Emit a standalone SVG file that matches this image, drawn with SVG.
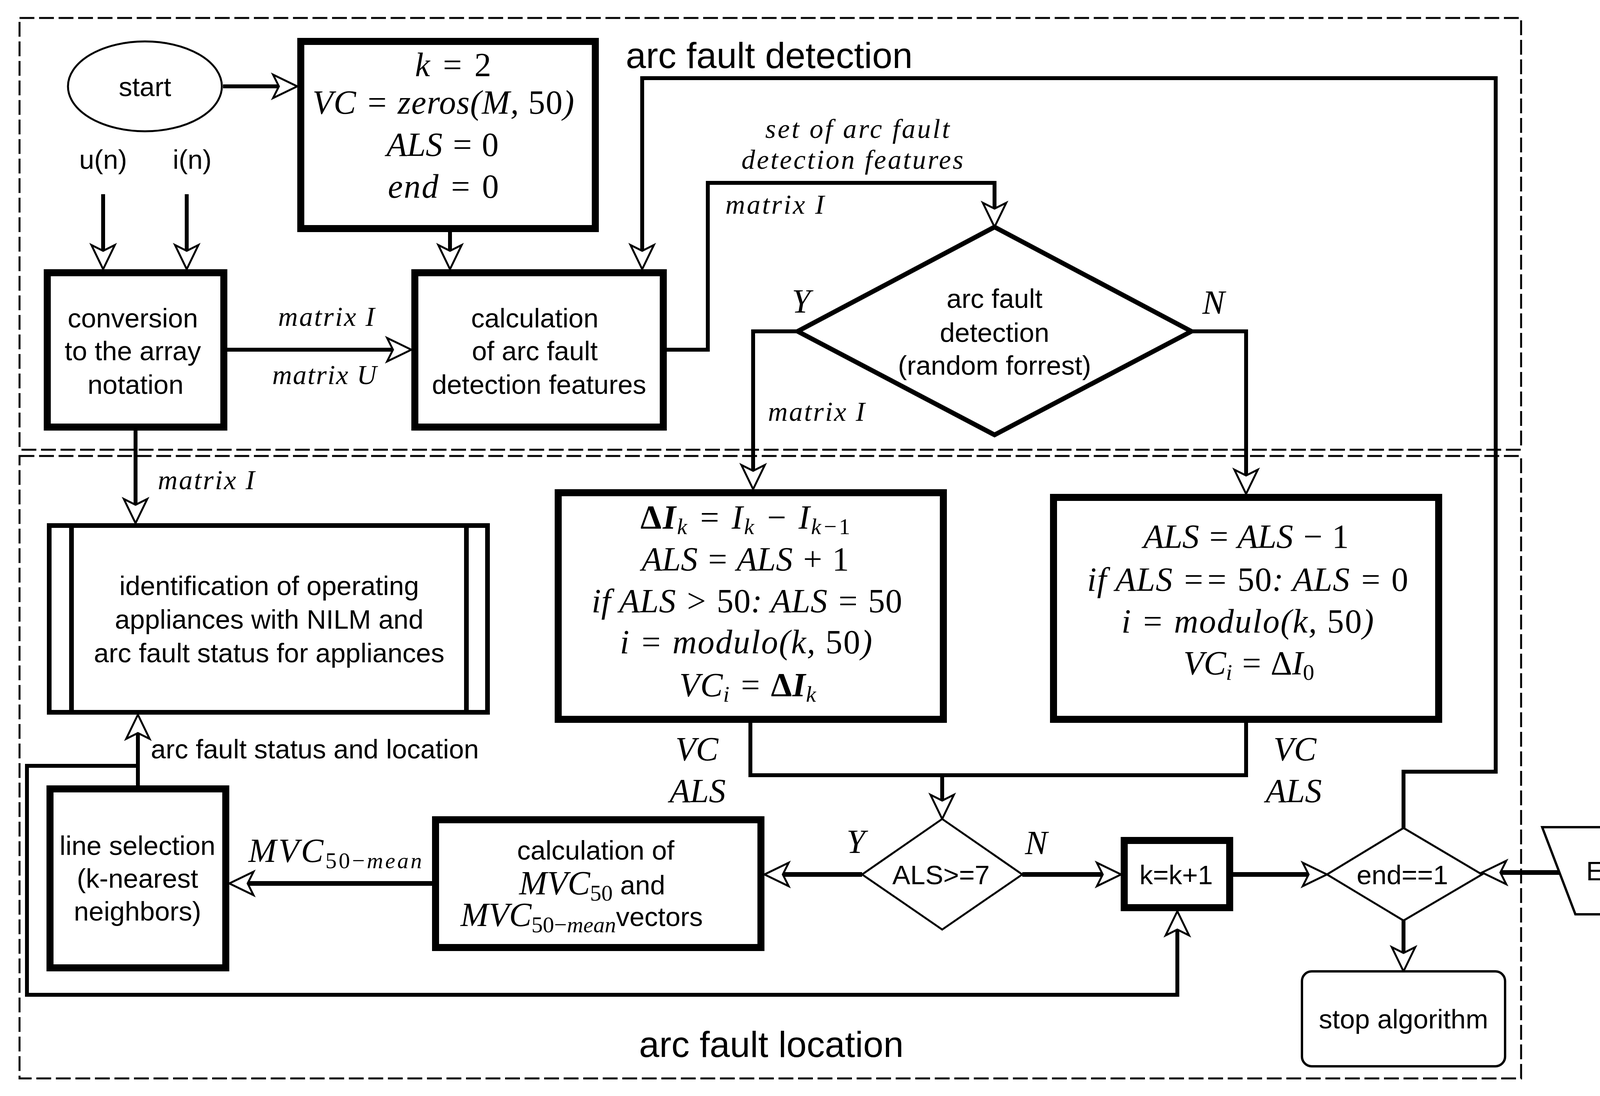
<svg xmlns="http://www.w3.org/2000/svg" width="4345" height="2805" viewBox="0 0 4345 2805">
<style>
.box{fill:#fff;stroke:#000;stroke-width:18}
.thin{fill:#fff;stroke:#000;stroke-width:6}
.dash{fill:none;stroke:#000;stroke-width:5;stroke-dasharray:38 12}
.c{fill:none;stroke:#000;stroke-width:10}
.ck{fill:none;stroke:#000;stroke-width:12}
.t{font-family:"Liberation Sans",Arial,sans-serif;font-size:69px;fill:#000}
.h{font-family:"Liberation Sans",Arial,sans-serif;font-size:93px;fill:#000}
.m{font-family:"Liberation Serif","Times New Roman",serif;font-style:italic;font-size:86px;fill:#000}
.l{font-family:"Liberation Serif","Times New Roman",serif;font-style:italic;font-size:70px;fill:#000}
.u{font-style:normal}
.b{font-weight:bold}
.s{font-size:58px}
</style>
<defs>
<marker id="a" markerUnits="userSpaceOnUse" viewBox="-25 -40 85 80" markerWidth="85" markerHeight="80" refX="0" refY="0" orient="auto" overflow="visible">
<path d="M47,0 L-15,-30 L0,0 L-15,30 Z" fill="#fff" stroke="#000" stroke-width="5" stroke-linejoin="miter"/>
</marker>
</defs>
<rect width="4345" height="2805" fill="#fff"/>

<g id="regions">
<rect class="dash" x="50" y="46" width="3844" height="1105"/>
<rect class="dash" x="50" y="1167" width="3844" height="1593"/>
<text class="h" x="1602" y="174">arc fault detection</text>
<text class="h" x="1636" y="2705">arc fault location</text>
</g>

<g id="connectors">
<path class="c" d="M571,221 H714" marker-end="url(#a)"/>
<path class="c" d="M264,497 V642" marker-end="url(#a)"/>
<path class="c" d="M478,497 V642" marker-end="url(#a)"/>
<path class="c" d="M582,895 H1006" marker-end="url(#a)"/>
<path class="c" d="M1152,594 V642" marker-end="url(#a)"/>
<path class="c" d="M1707,895 H1812 V468 H2546 V534" marker-end="url(#a)"/>
<path class="c" d="M3593,2119 V1975 H3829 V200 H1644 V642" marker-end="url(#a)"/>
<path class="c" d="M2042,848 H1928 V1205" marker-end="url(#a)"/>
<path class="c" d="M3050,848 H3190 V1217" marker-end="url(#a)"/>
<path class="c" d="M347,1102 V1292" marker-end="url(#a)"/>
<path class="c" d="M1921,1850 V1984 H3190 V1850"/>
<path class="c" d="M2412,1984 V2049" marker-end="url(#a)"/>
<path class="ck" d="M2207,2238 H2004" marker-end="url(#a)"/>
<path class="ck" d="M1106,2261 H634" marker-end="url(#a)"/>
<path class="ck" d="M2617,2238 H2823" marker-end="url(#a)"/>
<path class="ck" d="M3153,2238 H3350" marker-end="url(#a)"/>
<path class="ck" d="M3992,2233 H3841" marker-end="url(#a)"/>
<path class="c" d="M3593,2356 V2439" marker-end="url(#a)"/>
<path class="c" d="M353,2010 V1876" marker-end="url(#a)"/>
<path class="c" d="M353,1960 H69 V2546 H3014 V2379" marker-end="url(#a)"/>
<text class="l" x="712" y="834" textLength="247">matrix I</text>
<text class="l" x="697" y="983" textLength="267">matrix U</text>
<text class="l" x="2195" y="353" text-anchor="middle" textLength="472">set of arc fault</text>
<text class="l" x="2182" y="432" text-anchor="middle" textLength="568">detection features</text>
<text class="l" x="1857" y="547" textLength="253">matrix I</text>
<text class="l" x="1966" y="1077" textLength="248">matrix I</text>
<text class="l" x="404" y="1252" textLength="248">matrix I</text>
<text class="m" x="2027" y="800">Y</text>
<text class="m" x="3078" y="803">N</text>
<text class="m" x="2167" y="2183">Y</text>
<text class="m" x="2624" y="2186">N</text>
<text class="m" x="1784" y="1946" text-anchor="middle">VC</text>
<text class="m" x="1786" y="2053" text-anchor="middle">ALS</text>
<text class="m" x="3315" y="1946" text-anchor="middle">VC</text>
<text class="m" x="3312" y="2053" text-anchor="middle">ALS</text>
<text class="m" x="636" y="2206" textLength="444">MVC<tspan class="s u" dy="16">50−</tspan><tspan class="s">mean</tspan></text>
<text class="t" x="386" y="1941">arc fault status and location</text>
<text class="t" x="264" y="432" text-anchor="middle">u(n)</text>
<text class="t" x="492" y="432" text-anchor="middle">i(n)</text>
</g>

<g id="start">
<ellipse cx="371" cy="221" rx="197" ry="115" fill="#fff" stroke="#000" stroke-width="5"/>
<text class="t" x="371" y="246" text-anchor="middle">start</text>
</g>

<g id="init">
<rect class="box" x="770" y="106" width="754" height="479"/>
<text class="m" x="1160" y="195" text-anchor="middle" textLength="195">k = <tspan class="u">2</tspan></text>
<text class="m" x="1135" y="291" text-anchor="middle" textLength="670">VC = zeros(M, <tspan class="u">50</tspan>)</text>
<text class="m" x="1133" y="399" text-anchor="middle" textLength="287">ALS = <tspan class="u">0</tspan></text>
<text class="m" x="1135" y="506" text-anchor="middle" textLength="284">end = <tspan class="u">0</tspan></text>
</g>

<g id="conversion">
<rect class="box" x="121" y="698" width="452" height="395"/>
<text class="t" x="340" y="838" text-anchor="middle">conversion</text>
<text class="t" x="340" y="922" text-anchor="middle">to the array</text>
<text class="t" x="347" y="1008" text-anchor="middle">notation</text>
</g>

<g id="features">
<rect class="box" x="1062" y="698" width="636" height="395"/>
<text class="t" x="1369" y="838" text-anchor="middle">calculation</text>
<text class="t" x="1369" y="922" text-anchor="middle">of arc fault</text>
<text class="t" x="1380" y="1008" text-anchor="middle">detection features</text>
</g>

<g id="detection">
<polygon points="2546,581 3050,848 2546,1113 2042,848" fill="#fff" stroke="#000" stroke-width="12"/>
<text class="t" x="2546" y="788" text-anchor="middle">arc fault</text>
<text class="t" x="2546" y="875" text-anchor="middle">detection</text>
<text class="t" x="2546" y="959" text-anchor="middle">(random forrest)</text>
</g>

<g id="yes-box">
<rect class="box" x="1429" y="1261" width="986" height="580"/>
<text class="m" x="1908" y="1353" text-anchor="middle" textLength="537"><tspan class="u b">Δ</tspan><tspan class="b">I</tspan><tspan class="s" dy="14">k</tspan><tspan dy="-14"> = I</tspan><tspan class="s" dy="14">k</tspan><tspan dy="-14"> − I</tspan><tspan class="s" dy="14">k−<tspan class="u">1</tspan></tspan></text>
<text class="m" x="1908" y="1460" text-anchor="middle" textLength="531">ALS = ALS + <tspan class="u">1</tspan></text>
<text class="m" x="1912" y="1567" text-anchor="middle" textLength="795">if ALS &gt; <tspan class="u">50</tspan>: ALS = <tspan class="u">50</tspan></text>
<text class="m" x="1910" y="1672" text-anchor="middle" textLength="646">i = modulo(k, <tspan class="u">50</tspan>)</text>
<text class="m" x="1914" y="1782" text-anchor="middle" textLength="350">VC<tspan class="s" dy="14">i</tspan><tspan dy="-14"> = </tspan><tspan class="u b">Δ</tspan><tspan class="b">I</tspan><tspan class="s" dy="14">k</tspan></text>
</g>

<g id="no-box">
<rect class="box" x="2697" y="1273" width="986" height="568"/>
<text class="m" x="3190" y="1402" text-anchor="middle" textLength="526">ALS = ALS − <tspan class="u">1</tspan></text>
<text class="m" x="3194" y="1512" text-anchor="middle" textLength="822">if ALS == <tspan class="u">50</tspan>: ALS = <tspan class="u">0</tspan></text>
<text class="m" x="3194" y="1619" text-anchor="middle" textLength="646">i = modulo(k, <tspan class="u">50</tspan>)</text>
<text class="m" x="3197" y="1726" text-anchor="middle" textLength="335">VC<tspan class="s" dy="14">i</tspan><tspan dy="-14"> = </tspan><tspan class="u">Δ</tspan>I<tspan class="s u" dy="14">0</tspan></text>
</g>

<g id="nilm">
<rect x="126" y="1345" width="1122" height="478" fill="#fff" stroke="#000" stroke-width="12"/>
<line x1="183" y1="1345" x2="183" y2="1823" stroke="#000" stroke-width="12"/>
<line x1="1194" y1="1345" x2="1194" y2="1823" stroke="#000" stroke-width="12"/>
<text class="t" x="689" y="1523" text-anchor="middle">identification of operating</text>
<text class="t" x="689" y="1609" text-anchor="middle">appliances with NILM and</text>
<text class="t" x="689" y="1695" text-anchor="middle">arc fault status for appliances</text>
</g>

<g id="line-selection">
<rect class="box" x="128" y="2019" width="450" height="458"/>
<text class="t" x="352" y="2188" text-anchor="middle">line selection</text>
<text class="t" x="352" y="2272" text-anchor="middle">(k-nearest</text>
<text class="t" x="352" y="2356" text-anchor="middle">neighbors)</text>
</g>

<g id="mvc">
<rect class="box" x="1115" y="2098" width="833" height="327"/>
<text class="t" x="1525" y="2200" text-anchor="middle">calculation of</text>
<text x="1329" y="2289"><tspan class="m">MVC</tspan><tspan class="m s u" dy="16">50</tspan><tspan class="t" dy="-16"> and</tspan></text>
<text x="1179" y="2370"><tspan class="m">MVC</tspan><tspan class="m s u" dy="16">50−</tspan><tspan class="m s">mean</tspan><tspan class="t" dy="-16">vectors</tspan></text>
</g>

<g id="als-check">
<polygon points="2412,2096 2617,2238 2412,2379 2207,2238" fill="#fff" stroke="#000" stroke-width="5"/>
<text class="t" x="2409" y="2263" text-anchor="middle">ALS&gt;=7</text>
</g>

<g id="increment">
<rect x="2878" y="2151" width="270" height="172" fill="#fff" stroke="#000" stroke-width="18"/>
<text class="t" x="3011" y="2263" text-anchor="middle">k=k+1</text>
</g>

<g id="end-check">
<polygon points="3593,2119 3794,2238 3593,2356 3397,2238" fill="#fff" stroke="#000" stroke-width="5"/>
<text class="t" x="3590" y="2263" text-anchor="middle">end==1</text>
</g>

<g id="end">
<polygon points="3948,2117 4300,2117 4214,2340 4033,2340" fill="#fff" stroke="#000" stroke-width="6"/>
<text class="t" x="4122" y="2253" text-anchor="middle">End</text>
</g>

<g id="stop">
<rect class="thin" x="3333" y="2486" width="520" height="243" rx="25"/>
<text class="t" x="3593" y="2632" text-anchor="middle">stop algorithm</text>
</g>
</svg>
